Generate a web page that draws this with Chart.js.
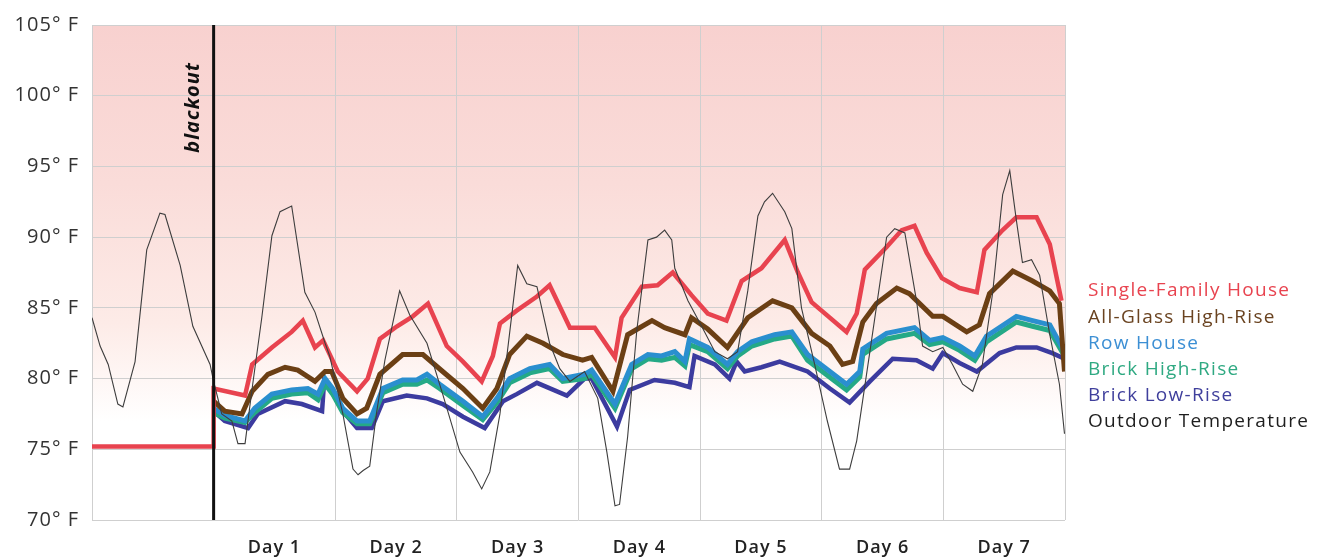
<!DOCTYPE html>
<html><head><meta charset="utf-8">
<script src="https://cdn.jsdelivr.net/npm/chart.js@4.4.1/dist/chart.umd.min.js"></script>
<style>html,body{margin:0;padding:0;background:#fff}#wrap{width:1323px;height:560px;position:relative}</style>
</head><body><div id="wrap"><canvas id="c"></canvas></div>
<script>
// ---- data (x = hours since start, y = °F) ----
const dayLabels = ['Day 1','Day 2','Day 3','Day 4','Day 5','Day 6','Day 7'];
const yTickValues = [70,75,80,85,90,95,100,105];
const blackoutHour = 24;
const blackoutLabel = 'blackout';

const outdoorTemp = [[0,84.3],[1.6,82.3],[3.2,81],[5.1,78.2],[6.1,78.0],[8.5,81.2],[10.8,89.1],[13.4,91.7],[14.4,91.6],[17.4,88],[19.9,83.7],[23.3,81],
 [24,79.8],[25.6,77.5],[27.6,77],[28.8,75.4],[30.2,75.4],[31.6,79.3],[33.5,84.3],[35.5,90.1],[37.1,91.8],[39.4,92.2],[42,86.1],[44,84.7],[46,82.5],[46.9,81.6],
 [49.5,77.5],[51.5,73.6],[52.5,73.2],[53.5,73.5],[54.8,73.8],[56.2,77.7],[57.8,81.3],[60.7,86.2],[62.7,84.5],[66.1,82.5],[69.2,78.9],
 [72.6,74.8],[75.1,73.4],[76.9,72.2],[78.5,73.4],[80.5,77.5],[82.4,83.2],[84,88],[85.8,86.7],[87.8,86.5],[90.3,82.5],[92.3,80.7],[94.3,79.8],
 [97.2,80.5],[99.8,78.6],[101.6,74.8],[103.2,71],[104.1,71.1],[105.7,75.9],[107.5,83.4],[109.7,89.8],[111.4,90],[113,90.5],[114.4,89.8],[115,87.8],[117.6,85.5],
 [120.3,83.7],[122.9,81.9],[125.4,81.4],[127.4,81.9],[129.4,86.2],[131.4,91.5],[132.7,92.5],[134.3,93.1],[136.7,91.8],[138.1,90.6],[140,85],[142.6,81],
 [145.1,77],[147.5,73.6],[149.5,73.6],[150.9,75.6],[153.5,81.9],[156.8,90],[158.4,90.6],[160.4,90.3],[162.7,85.5],[163.9,82.3],[165.9,81.9],
 [167.9,82.2],[169.8,81],[171.8,79.6],[173.8,79.1],[175.7,81],[177.7,86],[179.7,93],[181.1,94.7],[182.4,91.2],[183.6,88.2],[185.4,88.4],[187,87.3],[189,83.1],[190.9,79.6],[191.9,76.1]];

const singleFamily = [[0,75.2],[24,75.2],[24,79.3],[30.2,78.8],[31.6,81],[35.5,82.2],[39.4,83.3],[41.6,84.1],[44,82.2],[45.6,82.7],[48.5,80.5],
 [52.3,79.1],[54.4,80],[56.8,82.8],[60.2,83.7],[63.3,84.4],[66.3,85.3],[70,82.3],[73.2,81.2],[76.9,79.8],[79.1,81.6],[80.5,83.9],[83.8,84.8],
 [87.8,85.8],[90.3,86.6],[94.3,83.6],[99.2,83.6],[103.2,81.5],[104.5,84.3],[108.5,86.5],[111.6,86.6],[114.6,87.5],[118.3,85.9],[121.5,84.6],
 [125.2,84.1],[128.2,86.9],[132.1,87.8],[136.7,89.8],[139.3,87.5],[142,85.4],[148.9,83.3],[150.9,84.6],[152.5,87.7],[156.8,89.3],[159.8,90.5],
 [162.3,90.8],[164.7,88.9],[167.7,87.1],[171.2,86.4],[174.6,86.1],[176.1,89.1],[179.7,90.5],[182.4,91.4],[186.4,91.4],[189,89.5],[191.3,85.5]];

const allGlass = [[24,78.4],[26.2,77.7],[29.6,77.5],[31.6,79.1],[34.7,80.3],[38.1,80.8],[40.6,80.6],[44,79.8],[46,80.5],[47.3,80.5],[49.5,78.6],
 [52.3,77.5],[54.2,77.9],[56.8,80.3],[61.3,81.7],[65.3,81.7],[69.2,80.5],[73.2,79.3],[77.1,77.9],[79.9,79.3],[82.4,81.7],[85.8,83],[89,82.5],
 [92.9,81.7],[96.8,81.3],[98.6,81.5],[102.8,79.1],[105.7,83.1],[110.5,84.1],[113,83.6],[117,83.1],[118.3,84.3],[121.5,83.5],[125.4,82.2],
 [129.4,84.3],[134.3,85.5],[138.1,85],[142,83.2],[145.6,82.3],[148.1,81],[150.1,81.2],[152.1,84],[154.8,85.3],[158.8,86.4],[161.3,86],
 [165.9,84.4],[167.9,84.4],[172.6,83.3],[175.1,83.8],[177.1,86],[181.7,87.6],[185.6,86.9],[189,86.2],[190.9,85.3],[191.9,80.5]];

const rowHouse = [[24,77.9],[26.2,77.4],[30.2,77],[32.1,77.9],[35.5,78.9],[39.4,79.2],[42.6,79.3],[44.6,78.9],[46,80],[47.5,79.3],[49.5,77.9],
 [52.3,77],[54.8,77],[57.4,79.3],[61.3,79.9],[64.1,79.9],[66.1,80.3],[68.6,79.6],[73.2,78.4],[77.1,77.3],[79.9,78.6],[82.4,80],[86.4,80.7],
 [90.3,81],[92.9,80],[97.2,80.3],[98.6,80.6],[103.2,78.2],[106.5,81],[109.7,81.7],[112.4,81.6],[115,81.9],[117,81.2],[117.9,82.8],[121.5,82.2],
 [125.4,81],[127.4,81.9],[130.2,82.6],[134.7,83.1],[138.1,83.3],[141.2,81.7],[145.6,80.5],[148.9,79.6],[151.5,80.5],[152.1,82.1],[156.8,83.2],
 [162.3,83.6],[165.3,82.7],[167.9,82.9],[171.2,82.3],[174.2,81.6],[176.5,83],[182.4,84.4],[185.6,84.1],[189,83.8],[191.9,81.9]];

const brickHighRise = [[24,77.6],[26.2,77.2],[30.2,76.9],[32.1,77.6],[35.5,78.6],[39.4,78.9],[42.6,79.0],[44.6,78.5],[46,79.6],[47.5,78.9],[49.5,77.6],
 [52.3,76.8],[54.8,76.8],[57.4,79.0],[61.3,79.6],[64.1,79.6],[66.1,79.9],[68.6,79.3],[73.2,78.1],[77.1,77.1],[79.9,78.3],[82.4,79.7],[86.4,80.4],
 [90.3,80.7],[92.9,79.8],[97.2,80.0],[98.6,80.3],[103.2,77.9],[106.5,80.7],[109.7,81.4],[112.4,81.3],[115,81.5],[117,80.9],[117.9,82.4],[121.5,81.9],
 [125.4,80.7],[127.4,81.6],[130.2,82.3],[134.7,82.8],[138.1,83.0],[141.2,81.3],[145.6,80.1],[148.9,79.2],[151.5,80.1],[152.1,81.7],[156.8,82.8],
 [162.3,83.2],[165.3,82.4],[167.9,82.6],[171.2,82.0],[174.2,81.3],[176.5,82.6],[182.4,84.0],[185.6,83.7],[189,83.4],[191.9,81.6]];

const brickLowRise = [[24,77.7],[26.2,77],[30.8,76.5],[32.7,77.5],[38.1,78.4],[41.4,78.2],[45.4,77.7],[45.8,79.8],[46.9,79.3],[49.5,77.7],
 [52.3,76.5],[55.2,76.5],[57.4,78.4],[62.1,78.8],[66.1,78.6],[69.2,78.2],[73.2,77.3],[77.5,76.5],[81.1,78.4],[83.8,78.9],[87.8,79.7],[93.7,78.8],
 [97.2,80],[98.6,80],[103.6,76.6],[106.1,79.2],[111,79.9],[115,79.7],[117.9,79.4],[118.9,81.6],[122.9,81],[125.8,80],[127.2,81.2],[128.8,80.5],
 [132.1,80.8],[135.7,81.2],[141.2,80.5],[145.6,79.3],[149.5,78.3],[153.5,79.8],[158,81.4],[162.7,81.3],[165.9,80.7],[167.9,81.8],[171.2,81.1],
 [174.6,80.5],[179.1,81.8],[182.4,82.2],[186.4,82.2],[189.5,81.8],[191.9,81.4]];

// ---- chart ----
const toXY = arr => arr.map(p => ({x: p[0], y: p[1]}));

const datasets = [
  {label:'Outdoor Temperature', data:toXY(outdoorTemp), borderColor:'#3d3d3d', borderWidth:1.1, legendColor:'#1e1e1e'},
  {label:'Single-Family House', data:toXY(singleFamily), borderColor:'#e8434f', borderWidth:4.5, legendColor:'#e8434f'},
  {label:'All-Glass High-Rise', data:toXY(allGlass), borderColor:'#6b3f14', borderWidth:5, legendColor:'#6a4320'},
  {label:'Row House', data:toXY(rowHouse), borderColor:'#2a8fcf', borderWidth:5, legendColor:'#3c8fd4'},
  {label:'Brick High-Rise', data:toXY(brickHighRise), borderColor:'#25a986', borderWidth:5, legendColor:'#2fa982'},
  {label:'Brick Low-Rise', data:toXY(brickLowRise), borderColor:'#3c3b9f', borderWidth:4.5, legendColor:'#3f3f9c'}
].map(d => Object.assign({pointRadius:0, tension:0, fill:false, borderJoinStyle:'miter', borderCapStyle:'butt'}, d));

const legendOrder = ['Single-Family House','All-Glass High-Rise','Row House','Brick High-Rise','Brick Low-Rise','Outdoor Temperature'];

const bgPlugin = {
  id:'bg',
  beforeDraw(chart){
    const {ctx, chartArea:a, scales:{y}} = chart;
    const yEnd = y.getPixelForValue(77);
    const g = ctx.createLinearGradient(0, a.top, 0, yEnd);
    g.addColorStop(0, '#f8d1cf');
    g.addColorStop(0.4, '#fadcd9');
    g.addColorStop(0.75, '#fdebe7');
    g.addColorStop(1, '#ffffff');
    ctx.save();
    ctx.fillStyle = g;
    ctx.fillRect(a.left, a.top, a.right - a.left, yEnd - a.top);
    ctx.restore();
    ctx.letterSpacing = '1px';
  }
};

const blackoutPlugin = {
  id:'blackout',
  afterDatasetsDraw(chart){
    const {ctx, chartArea:a, scales:{x}} = chart;
    const px = x.getPixelForValue(blackoutHour);
    ctx.save();
    ctx.strokeStyle = '#111';
    ctx.lineWidth = 3;
    ctx.beginPath(); ctx.moveTo(px, a.top); ctx.lineTo(px, a.bottom); ctx.stroke();
    ctx.translate(px - 20, a.top + 37);
    ctx.rotate(-Math.PI/2);
    ctx.fillStyle = '#111';
    ctx.letterSpacing = '1px';
    ctx.font = 'italic 700 20px "Open Sans", sans-serif';
    ctx.textAlign = 'right';
    ctx.textBaseline = 'middle';
    ctx.fillText(blackoutLabel, 0, 0);
    ctx.restore();
  }
};

const legendPlugin = {
  id:'sideLegend',
  afterDraw(chart){
    const {ctx, chartArea:a} = chart;
    ctx.save();
    ctx.letterSpacing = '1.3px';
    ctx.font = '500 19px "Open Sans", sans-serif';
    ctx.textAlign = 'left';
    ctx.textBaseline = 'middle';
    legendOrder.forEach((name, i) => {
      const ds = chart.data.datasets.find(d => d.label === name);
      ctx.fillStyle = ds.legendColor;
      ctx.fillText(name, a.right + 23, 291 + i * 26.2);
    });
    ctx.restore();
  }
};

new Chart(document.getElementById('c'), {
  type:'line',
  data:{datasets},
  options:{
    responsive:true, maintainAspectRatio:false, animation:false,
    layout:{padding:{top:22, right:258, left:0, bottom:0}},
    plugins:{legend:{display:false}, tooltip:{enabled:false}},
    scales:{
      x:{
        type:'linear', min:0, max:192,
        afterFit(s){ s.height = 40; },
        border:{display:false},
        grid:{drawTicks:false, color:c => (c.tick && c.tick.value % 24 === 0) ? '#cfcfcf' : 'rgba(0,0,0,0)', lineWidth:1},
        afterBuildTicks(s){ const t=[]; for(let v=0; v<=192; v+=12) t.push({value:v}); s.ticks = t; },
        ticks:{
          autoSkip:false, maxRotation:0, padding:17, color:'#222',
          font:{family:'"Open Sans", sans-serif', size:18, weight:'600'},
          callback:v => (v % 24 === 12 && v >= 36) ? dayLabels[(v - 36) / 24] : ''
        }
      },
      y:{
        min:70, max:105,
        afterFit(s){ s.width = 92; },
        afterBuildTicks(s){ s.ticks = yTickValues.map(v => ({value:v})); },
        border:{display:false},
        grid:{drawTicks:false, color:'#cfcfcf', lineWidth:1},
        ticks:{padding:13, color:'#333', font:{family:'"Open Sans", sans-serif', size:20, weight:'500'},
          callback:v => v + '° F'}
      }
    }
  },
  plugins:[bgPlugin, blackoutPlugin, legendPlugin]
});
</script>
</body></html>
